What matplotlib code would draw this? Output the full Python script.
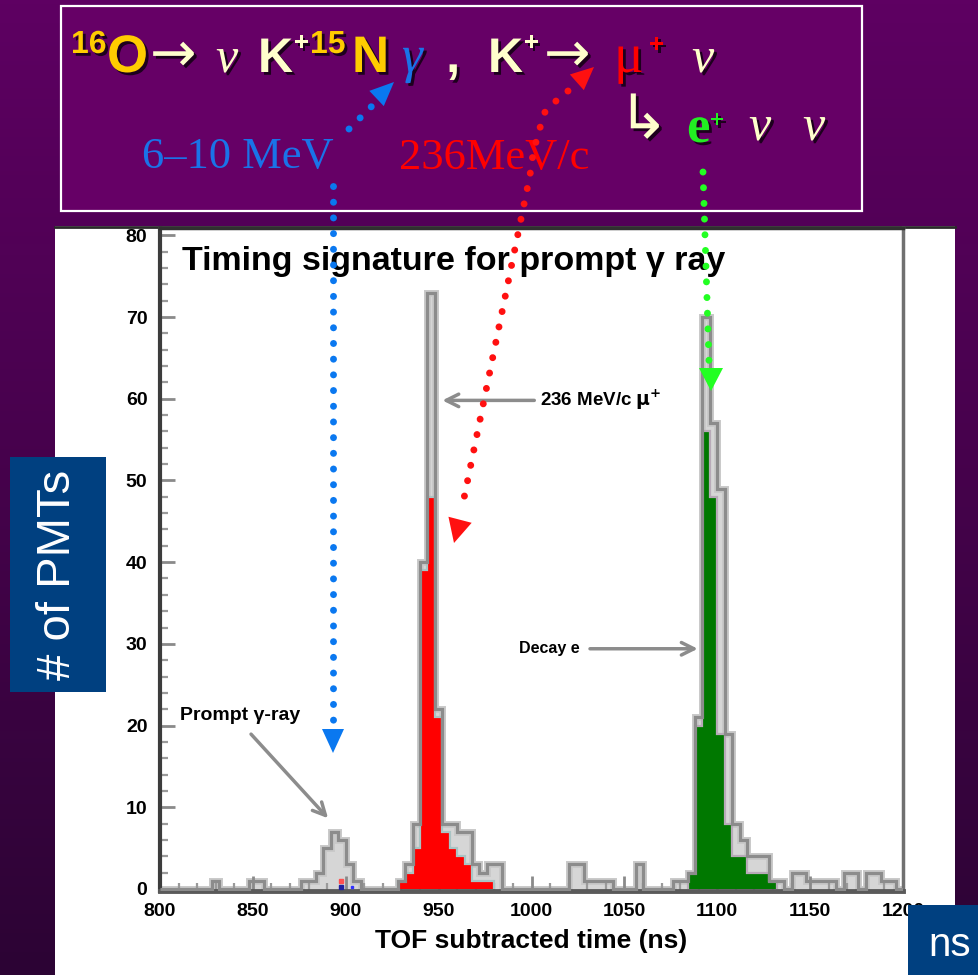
import numpy as np
import matplotlib
matplotlib.use("Agg")
import matplotlib.pyplot as plt
from matplotlib.patches import Rectangle, Polygon
import matplotlib.patheffects as pe

# ---------------- data ----------------
bin_width = 4
bin_edges = np.arange(800, 1201, bin_width)          # 100 bins, 800..1200 ns
total_counts = [
    0, 0, 0, 0, 0, 0, 0, 1, 0, 0,      # 800-836
    0, 0, 1, 1, 0, 0, 0, 0, 0, 1,      # 840-876
    1, 2, 5, 7, 6, 3, 1, 0, 0, 0,      # 880-916
    0, 0, 1, 3, 8, 40, 73, 22, 8, 8,   # 920-956
    7, 7, 3, 2, 3, 3, 0, 0, 0, 0,      # 960-996
    0, 0, 0, 0, 0, 3, 3, 1, 1, 1,      # 1000-1036
    1, 0, 0, 0, 3, 0, 0, 0, 0, 1,      # 1040-1076
    1, 2, 21, 70, 57, 49, 19, 8, 6, 4, # 1080-1116
    4, 4, 1, 1, 0, 2, 2, 1, 1, 1,      # 1120-1156
    1, 0, 2, 2, 0, 2, 2, 1, 1, 0,      # 1160-1196
]
muon_start = 928
muon_counts = [1, 2, 5, 39, 48, 21, 7, 5, 4, 3, 1, 1, 1]
decay_start = 1084
decay_counts = [2, 20, 56, 48, 19, 8, 4, 4, 2, 2, 2, 1]
x_ticks = [800, 850, 900, 950, 1000, 1050, 1100, 1150, 1200]
y_ticks = [0, 10, 20, 30, 40, 50, 60, 70, 80]

W, H = 979, 975
SANS = "Liberation Sans"
SERIF = "Liberation Serif"
CREAM = "#ffffcc"
GOLD = "#ffcc00"
BLUE = "#1a73e8"
RED = "#ff0000"
GREEN = "#22ee22"
NAVY = "#004080"

fig = plt.figure(figsize=(W / 100, H / 100), dpi=100)


def frac(x0, y0, x1, y1):
    return [x0 / W, 1 - y1 / H, (x1 - x0) / W, (y1 - y0) / H]


# ---------------- background layer ----------------
bg = fig.add_axes([0, 0, 1, 1], zorder=0)
top = np.array([0x5e, 0x00, 0x62]) / 255
bot = np.array([0x2c, 0x04, 0x34]) / 255
g = np.linspace(0, 1, 256)[:, None, None]
grad = top * (1 - g) + bot * g
bg.imshow(grad, extent=(0, W, H, 0), aspect="auto")
bg.set_xlim(0, W)
bg.set_ylim(H, 0)
bg.axis("off")

bg.add_patch(Rectangle((55, 226), 900, 760, fc="white", ec="none"))
bg.plot([55, 955], [227, 227], color="#2a2a2a", lw=2)
bg.add_patch(Rectangle((61, 6), 801, 205, fc="#660066", ec="white", lw=1.6))

shadow = [pe.SimplePatchShadow(offset=(2, -2), shadow_rgbFace="#150015", alpha=0.9), pe.Normal()]

pieces = [
    # text, x, baseline y, color, size, family, weight, style
    ("16", 71, 53, GOLD, 23, SANS, "bold", "normal"),
    ("O", 107, 72, GOLD, 38, SANS, "bold", "normal"),
    ("→", 150, 71, CREAM, 40, "DejaVu Sans", "normal", "normal"),
    ("ν", 216, 72, CREAM, 36, SERIF, "normal", "italic"),
    ("K", 258, 72, CREAM, 35, SANS, "bold", "normal"),
    ("+", 294, 50, CREAM, 18, SANS, "bold", "normal"),
    ("15", 310, 53, GOLD, 23, SANS, "bold", "normal"),
    ("N", 352, 72, GOLD, 37, SANS, "bold", "normal"),
    ("γ", 402, 72, BLUE, 38, SERIF, "normal", "italic"),
    (",", 446, 72, CREAM, 37, SANS, "bold", "normal"),
    ("K", 488, 72, CREAM, 35, SANS, "bold", "normal"),
    ("+", 524, 50, CREAM, 18, SANS, "bold", "normal"),
    ("→", 544, 71, CREAM, 40, "DejaVu Sans", "normal", "normal"),
    ("μ", 614, 72, RED, 40, SERIF, "normal", "normal"),
    ("+", 649, 52, RED, 19, SANS, "bold", "normal"),
    ("ν", 692, 72, CREAM, 36, SERIF, "normal", "italic"),
    ("↳", 618, 138, CREAM, 44, "DejaVu Sans", "normal", "normal"),
    ("e", 687, 142, GREEN, 38, SERIF, "bold", "normal"),
    ("+", 710, 127, GREEN, 17, SANS, "bold", "normal"),
    ("ν", 749, 140, CREAM, 36, SERIF, "normal", "italic"),
    ("ν", 803, 140, CREAM, 36, SERIF, "normal", "italic"),
]
for txt, x, y, c, s, fam, w, st in pieces:
    bg.text(x, y, txt, color=c, fontsize=s, family=[fam, "DejaVu Sans"], fontweight=w,
            fontstyle=st, ha="left", va="baseline", path_effects=shadow)

bg.text(142, 168, "6–10 MeV", color=BLUE, fontsize=32, family=SERIF, ha="left", va="baseline")
bg.text(399, 169, "236MeV/c", color=RED, fontsize=32, family=SERIF, ha="left", va="baseline")

# ---------------- histogram axes ----------------
ax = fig.add_axes(frac(160, 228, 903, 891), zorder=1)
ax.set_facecolor("white")
ax.set_xlim(800, 1200)
ax.set_ylim(-0.25, 80.9)

mu_edges = np.arange(muon_start, muon_start + bin_width * (len(muon_counts) + 1), bin_width)
de_edges = np.arange(decay_start, decay_start + bin_width * (len(decay_counts) + 1), bin_width)

ax.stairs(total_counts, bin_edges, fill=True, color="#d6d6d6", zorder=1)
ax.stairs(total_counts, bin_edges, baseline=0, color="#c9c9c9", lw=5.0, zorder=1.5)
ax.stairs(muon_counts, mu_edges, fill=True, color="#ff0000", zorder=2)
ax.stairs(muon_counts, mu_edges, color="#a9c4c4", lw=1.6, zorder=2.1)
ax.stairs(decay_counts, de_edges, fill=True, color="#007800", zorder=2)
ax.stairs(decay_counts, de_edges, color="#b8aab8", lw=1.6, zorder=2.1)
ax.stairs(total_counts, bin_edges, baseline=0, color="#8c8c8c", lw=2.3, zorder=3)

ax.plot([897.5], [1.0], "s", color="#ff5050", ms=2.5, zorder=4)
ax.plot([897.5], [0.2], "s", color="#2020a0", ms=2.5, zorder=4)
ax.plot([903.5], [0.2], "s", color="#3030ff", ms=2.0, zorder=4)

ax.set_xticks(x_ticks)
ax.set_xticks(np.arange(800, 1201, 10), minor=True)
ax.set_yticks(y_ticks)
ax.set_yticks(np.arange(0, 81, 2), minor=True)
ax.tick_params(which="major", direction="in", length=11, width=2, color="#8a8a8a",
               labelsize=14, pad=9)
ax.tick_params(which="minor", direction="in", length=6, width=1.6, color="#9a9a9a")
for lab in ax.get_xticklabels() + ax.get_yticklabels():
    lab.set_fontweight("bold")
    lab.set_family(SANS)

ax.set_xlabel("TOF subtracted time (ns)", fontsize=19, fontweight="bold", family=SANS, labelpad=6)

for side, lw, c in [("left", 3, "#3c3c3c"), ("bottom", 3.5, "#5a5a5a"),
                    ("top", 2.5, "#303030"), ("right", 2.5, "#707070")]:
    ax.spines[side].set_linewidth(lw)
    ax.spines[side].set_color(c)

ax.text(812, 76.8, "Timing signature for prompt γ ray", fontsize=24.5, fontweight="bold",
        family=SANS, va="center", ha="left", zorder=5)

arrow_kw = dict(arrowstyle="->,head_length=0.9,head_width=0.45", color="#8c8c8c", lw=2.5)
ax.annotate("", xy=(950.5, 59.8), xytext=(1003, 59.8), arrowprops=arrow_kw, zorder=5)
ax.text(1004.5, 59.8, r"236 MeV/c $\mathbf{\mu^{+}}$", fontsize=13.5, fontweight="bold",
        family=SANS, va="center", ha="left", zorder=5)
ax.annotate("", xy=(1091, 29.4), xytext=(1030, 29.4), arrowprops=arrow_kw, zorder=5)
ax.text(993.5, 29.4, "Decay e", fontsize=11.5, fontweight="bold", family=SANS,
        va="center", ha="left", zorder=5)
ax.annotate("", xy=(891.5, 8.4), xytext=(848, 19.2), arrowprops=arrow_kw, zorder=5)
ax.text(810.5, 21.2, "Prompt γ-ray", fontsize=14, fontweight="bold", family=SANS,
        va="center", ha="left", zorder=5)

# ---------------- overlay layer ----------------
ov = fig.add_axes([0, 0, 1, 1], zorder=3)
ov.set_xlim(0, W)
ov.set_ylim(H, 0)
ov.axis("off")
ov.patch.set_alpha(0)


def dotted(xs, ys, color):
    ov.plot(xs, ys, color=color, lw=5.0, linestyle=(0, (0.01, 2.25)),
            dash_capstyle="round", solid_capstyle="round")


def head(tip, frm, color, length=23, width=22):
    tip = np.array(tip, float)
    d = tip - np.array(frm, float)
    d /= np.hypot(*d)
    p = np.array([-d[1], d[0]])
    base = tip - d * length
    ov.add_patch(Polygon([tip, base + p * width / 2, base - p * width / 2], closed=True,
                         fc=color, ec="none"))


# blue: gamma
dotted([333, 333], [186, 728], "#0a78f0")
head((333, 753), (333, 700), "#0a78f0", 24, 22)
dotted([349, 372], [129, 106], "#0a78f0")
head((394, 82), (357, 117), "#0a78f0", 24, 21)

# red: muon
rx = [568, 556, 545, 538, 533, 530, 462]
ry = [91, 101, 112, 134, 154, 175, 508]
dotted(rx, ry, "#ff1010")
head((594, 67), (566, 92), "#ff1010", 23, 21)
head((454, 543), (460, 520), "#ff1010", 24, 24)

# green: decay e
dotted([703, 709], [172, 362], "#22ff22")
head((711, 391), (711, 360), "#22ff22", 23, 24)

# label boxes
ov.add_patch(Rectangle((10, 457), 96, 235, fc=NAVY, ec="none"))
ov.text(58, 575, "# of PMTs", color="white", fontsize=34, family=SANS, rotation=90,
        ha="center", va="center")
ov.add_patch(Rectangle((908, 905), 80, 75, fc=NAVY, ec="none"))
ov.text(950, 945, "ns", color="white", fontsize=29, family=SANS, ha="center", va="center")

fig.savefig("out.png", dpi=100)
